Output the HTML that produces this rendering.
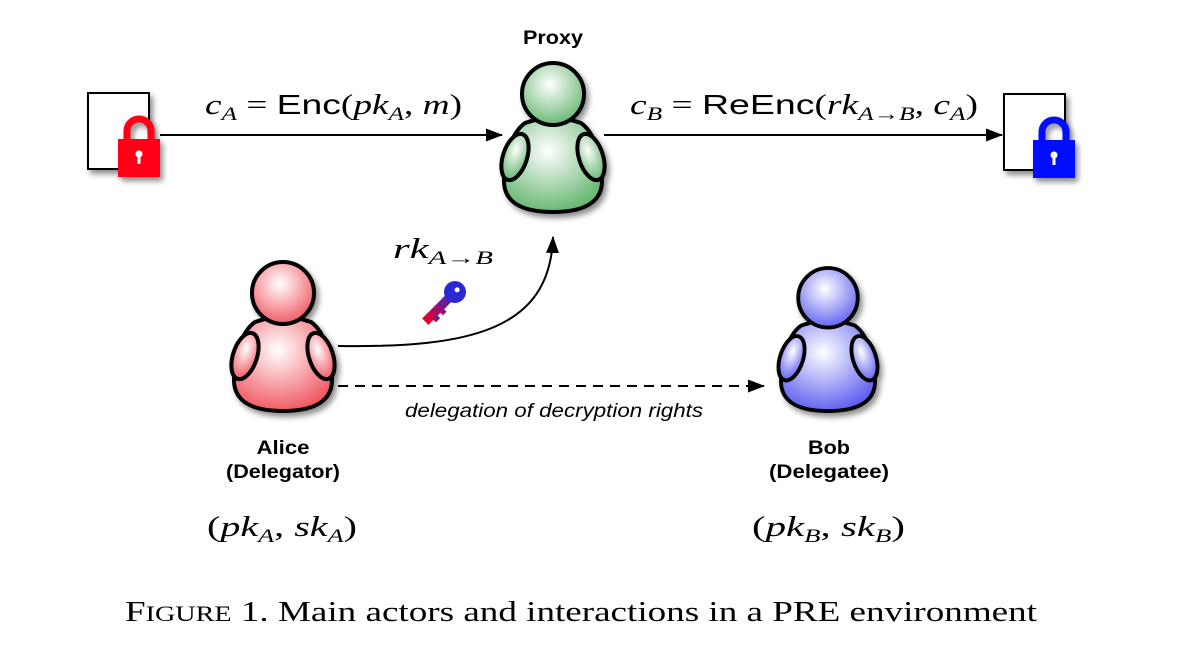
<!DOCTYPE html>
<html><head><meta charset="utf-8"><style>
html,body{margin:0;padding:0;background:#fff;}
svg{display:block}
.m{font-family:"Liberation Serif",serif;}
.s{font-family:"Liberation Sans",sans-serif;}
</style></head><body>
<svg width="1194" height="648" viewBox="0 0 1194 648" xmlns="http://www.w3.org/2000/svg">
<defs>
<radialGradient id="gG" cx="0.45" cy="0.35" r="0.7"><stop offset="0" stop-color="#fff"/><stop offset="1" stop-color="#5fb36a"/></radialGradient>
<radialGradient id="gR" cx="0.45" cy="0.35" r="0.7"><stop offset="0" stop-color="#fff"/><stop offset="1" stop-color="#f0505a"/></radialGradient>
<radialGradient id="gB" cx="0.45" cy="0.35" r="0.7"><stop offset="0" stop-color="#fff"/><stop offset="1" stop-color="#5858f0"/></radialGradient>
<linearGradient id="kg" x1="0" y1="0" x2="0" y2="1"><stop offset="0" stop-color="#2a2ad0"/><stop offset="1" stop-color="#e8002a"/></linearGradient>
<marker id="ar" markerWidth="17" markerHeight="13" refX="16" refY="6.5" orient="auto" markerUnits="userSpaceOnUse"><path d="M0,0 L17,6.5 L0,13 Z" fill="#000"/></marker>
<filter id="sh" x="-30%" y="-30%" width="160%" height="160%"><feGaussianBlur in="SourceAlpha" stdDeviation="3"/><feOffset dx="3" dy="4"/><feComponentTransfer><feFuncA type="linear" slope="0.45"/></feComponentTransfer><feMerge><feMergeNode/><feMergeNode in="SourceGraphic"/></feMerge></filter>
<g id="fig">
<path d="M-28,60 Q0,50 28,60 C42,70 49,95 49,118 C49,142 26,149 0,149 C-26,149 -49,142 -49,118 C-49,95 -42,70 -28,60 Z"/>
<ellipse cx="-38" cy="94" rx="12" ry="24" transform="rotate(18 -38 94)"/>
<ellipse cx="38" cy="94" rx="12" ry="24" transform="rotate(-18 38 94)"/>
<circle cx="0" cy="31" r="31"/>
</g>
</defs>

<g transform="translate(553,63)" filter="url(#sh)" stroke="#000" stroke-width="4" fill="url(#gG)"><use href="#fig"/></g>
<g transform="translate(283,262)" filter="url(#sh)" stroke="#000" stroke-width="4" fill="url(#gR)"><use href="#fig"/></g>
<g transform="translate(828,268) scale(0.96)" filter="url(#sh)" stroke="#000" stroke-width="4" fill="url(#gB)"><use href="#fig"/></g>

<!-- documents -->
<rect x="88" y="93" width="61" height="76" fill="#fff" stroke="#000" stroke-width="2" filter="url(#sh)"/>
<g filter="url(#sh)">
<path d="M127,140 V131 A12,12 0 0 1 151,131 V140" fill="none" stroke="#ff0018" stroke-width="7"/>
<rect x="118" y="139" width="42" height="38" fill="#ff0018"/>
<circle cx="139" cy="154" r="3.5" fill="#fff"/><rect x="137.5" y="155" width="3" height="9" fill="#fff"/>
</g>
<rect x="1004" y="94" width="61" height="76" fill="#fff" stroke="#000" stroke-width="2" filter="url(#sh)"/>
<g filter="url(#sh)">
<path d="M1042,141 V132 A12,12 0 0 1 1066,132 V141" fill="none" stroke="#0010ff" stroke-width="7"/>
<rect x="1033" y="140" width="42" height="38" fill="#0010ff"/>
<circle cx="1054" cy="155" r="3.5" fill="#fff"/><rect x="1052.5" y="156" width="3" height="9" fill="#fff"/>
</g>

<!-- connectors -->
<line x1="160" y1="135" x2="502" y2="135" stroke="#000" stroke-width="2" marker-end="url(#ar)"/>
<line x1="604" y1="135" x2="1002" y2="135" stroke="#000" stroke-width="2" marker-end="url(#ar)"/>
<path d="M338,346 C470,348 550,330 553,237" fill="none" stroke="#000" stroke-width="2" marker-end="url(#ar)"/>
<line x1="338" y1="386" x2="764" y2="386" stroke="#000" stroke-width="2" stroke-dasharray="10,7" marker-end="url(#ar)"/>

<!-- key -->
<g transform="translate(455,292) rotate(45)">
<rect x="-4.5" y="0" width="9" height="42" fill="url(#kg)"/>
<rect x="3" y="20" width="5" height="5" fill="url(#kg)"/><rect x="3" y="29" width="5" height="6" fill="url(#kg)"/>
<circle cx="0" cy="0" r="11" fill="#2a2ad0"/>
<circle cx="0" cy="-3" r="2.5" fill="#fff"/>
</g>

<!-- labels -->
<text x="553" y="44" text-anchor="middle" class="s" font-weight="bold" font-size="19" textLength="60" lengthAdjust="spacingAndGlyphs">Proxy</text>
<text x="205" y="114" class="m" font-size="28" textLength="257" lengthAdjust="spacingAndGlyphs"><tspan font-style="italic">c</tspan><tspan font-style="italic" font-size="19" dy="6">A</tspan><tspan dy="-6"> = </tspan><tspan font-family="Liberation Sans">Enc</tspan>(<tspan font-style="italic">pk</tspan><tspan font-style="italic" font-size="19" dy="6">A</tspan><tspan dy="-6">, </tspan><tspan font-style="italic">m</tspan>)</text>
<text x="630" y="114" class="m" font-size="28" textLength="348" lengthAdjust="spacingAndGlyphs"><tspan font-style="italic">c</tspan><tspan font-style="italic" font-size="19" dy="6">B</tspan><tspan dy="-6"> = </tspan><tspan font-family="Liberation Sans">ReEnc</tspan>(<tspan font-style="italic">rk</tspan><tspan font-style="italic" font-size="19" dy="6">A→B</tspan><tspan dy="-6">, </tspan><tspan font-style="italic">c</tspan><tspan font-style="italic" font-size="19" dy="6">A</tspan><tspan dy="-6">)</tspan></text>
<text x="393" y="258" class="m" font-size="28" textLength="100" lengthAdjust="spacingAndGlyphs"><tspan font-style="italic">rk</tspan><tspan font-style="italic" font-size="19" dy="6">A→B</tspan></text>
<text x="405" y="417" class="s" font-style="italic" font-size="19" textLength="298" lengthAdjust="spacingAndGlyphs">delegation of decryption rights</text>
<text x="283" y="454" text-anchor="middle" class="s" font-weight="bold" font-size="19" textLength="53" lengthAdjust="spacingAndGlyphs">Alice</text>
<text x="283" y="478" text-anchor="middle" class="s" font-weight="bold" font-size="19" textLength="114" lengthAdjust="spacingAndGlyphs">(Delegator)</text>
<text x="829" y="454" text-anchor="middle" class="s" font-weight="bold" font-size="19" textLength="42" lengthAdjust="spacingAndGlyphs">Bob</text>
<text x="829" y="478" text-anchor="middle" class="s" font-weight="bold" font-size="19" textLength="120" lengthAdjust="spacingAndGlyphs">(Delegatee)</text>
<text x="207" y="536" class="m" font-size="29" textLength="150" lengthAdjust="spacingAndGlyphs">(<tspan font-style="italic">pk</tspan><tspan font-style="italic" font-size="19" dy="6">A</tspan><tspan dy="-6">, </tspan><tspan font-style="italic">sk</tspan><tspan font-style="italic" font-size="19" dy="6">A</tspan><tspan dy="-6">)</tspan></text>
<text x="752" y="536" class="m" font-size="29" textLength="153" lengthAdjust="spacingAndGlyphs">(<tspan font-style="italic">pk</tspan><tspan font-style="italic" font-size="19" dy="6">B</tspan><tspan dy="-6">, </tspan><tspan font-style="italic">sk</tspan><tspan font-style="italic" font-size="19" dy="6">B</tspan><tspan dy="-6">)</tspan></text>
<text x="125" y="621" class="m" font-size="29" textLength="912" lengthAdjust="spacingAndGlyphs">F<tspan font-size="22">IGURE</tspan> 1.  Main actors and interactions in a PRE environment</text>
</svg>
</body></html>
